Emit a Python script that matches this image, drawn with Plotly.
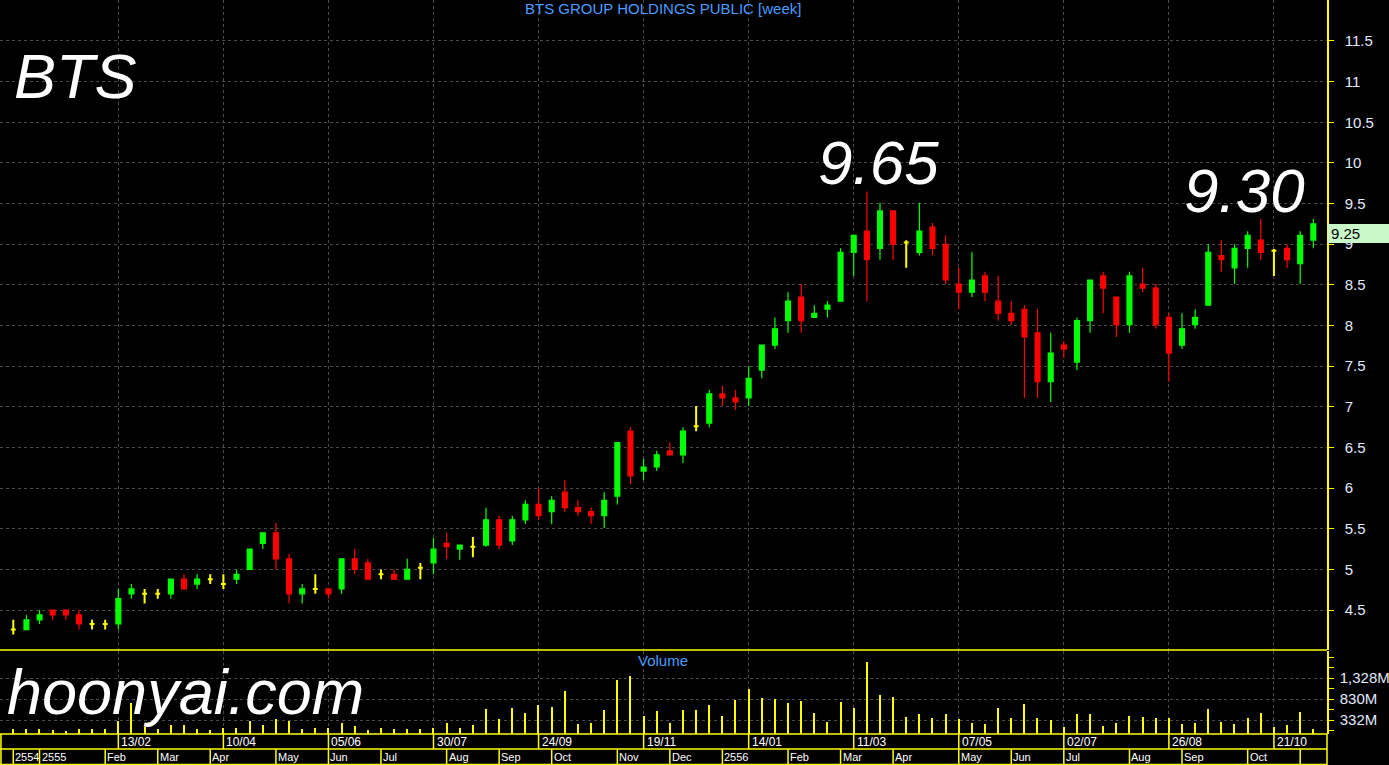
import pandas as pd
import plotly.graph_objects as go

# ---------------- data ----------------
week_start = "2011-12-19"
n_weeks = 100
dates = pd.date_range(week_start, periods=n_weeks, freq="7D")

opens = [4.26, 4.26, 4.38, 4.50, 4.50, 4.44, 4.33, 4.33, 4.33, 4.70,
         4.70, 4.70, 4.70, 4.88, 4.82, 4.88, 4.82, 4.88, 5.00, 5.32,
         5.45, 5.13, 4.70, 4.76, 4.76, 4.76, 5.13, 5.08, 4.94, 4.94,
         4.88, 5.02, 5.08, 5.32, 5.25, 5.28, 5.30, 5.61, 5.35, 5.61,
         5.80, 5.71, 5.95, 5.76, 5.71, 5.66, 5.90, 6.70, 6.21, 6.26,
         6.46, 6.41, 6.76, 6.80, 7.16, 7.11, 7.11, 7.45, 7.76, 8.06,
         8.35, 8.10, 8.20, 8.30, 8.90, 9.16, 8.95, 9.41, 9.02, 8.90,
         9.21, 9.00, 8.51, 8.41, 8.61, 8.30, 8.15, 8.20, 7.91, 7.31,
         7.76, 7.55, 8.06, 8.61, 8.35, 8.01, 8.51, 8.46, 8.10, 7.76,
         8.01, 8.25, 8.86, 8.71, 8.95, 9.05, 8.92, 8.95, 8.76, 9.05]
highs = [4.38, 4.44, 4.50, 4.50, 4.50, 4.50, 4.38, 4.38, 4.76, 4.82,
         4.76, 4.76, 4.88, 4.94, 4.94, 4.94, 4.94, 5.00, 5.25, 5.45,
         5.57, 5.19, 4.82, 4.94, 4.76, 5.13, 5.25, 5.13, 5.00, 5.00,
         5.13, 5.08, 5.39, 5.45, 5.30, 5.40, 5.76, 5.66, 5.66, 5.85,
         6.00, 5.90, 6.10, 5.85, 5.76, 5.95, 6.56, 6.75, 6.36, 6.46,
         6.56, 6.75, 7.01, 7.21, 7.26, 7.21, 7.50, 7.76, 8.10, 8.41,
         8.51, 8.25, 8.30, 8.95, 9.11, 9.65, 9.51, 9.41, 9.05, 9.51,
         9.26, 9.11, 8.71, 8.90, 8.66, 8.61, 8.30, 8.25, 8.20, 7.91,
         7.81, 8.10, 8.56, 8.66, 8.35, 8.66, 8.71, 8.51, 8.15, 8.15,
         8.20, 9.00, 9.05, 9.00, 9.16, 9.31, 8.94, 9.00, 9.16, 9.31]
lows = [4.20, 4.26, 4.33, 4.38, 4.38, 4.26, 4.26, 4.26, 4.26, 4.64,
        4.58, 4.64, 4.64, 4.76, 4.76, 4.82, 4.76, 4.82, 5.00, 5.25,
        5.00, 4.58, 4.58, 4.70, 4.64, 4.70, 4.94, 4.88, 4.88, 4.88,
        4.88, 4.88, 4.94, 5.13, 5.12, 5.15, 5.28, 5.25, 5.30, 5.56,
        5.61, 5.56, 5.71, 5.66, 5.56, 5.51, 5.80, 6.05, 6.10, 6.21,
        6.41, 6.31, 6.70, 6.75, 7.01, 6.96, 7.01, 7.35, 7.71, 7.91,
        7.91, 8.10, 8.10, 8.30, 8.61, 8.30, 8.81, 8.81, 8.71, 8.86,
        8.86, 8.51, 8.20, 8.35, 8.30, 8.06, 8.01, 7.11, 7.11, 7.06,
        7.60, 7.45, 7.91, 8.15, 7.86, 7.91, 8.41, 7.96, 7.31, 7.71,
        7.96, 8.25, 8.66, 8.51, 8.71, 8.81, 8.61, 8.71, 8.51, 8.95]
closes = [4.26, 4.38, 4.44, 4.44, 4.44, 4.33, 4.33, 4.33, 4.64, 4.76,
          4.70, 4.70, 4.88, 4.76, 4.88, 4.88, 4.82, 4.94, 5.25, 5.45,
          5.13, 4.70, 4.76, 4.76, 4.70, 5.13, 5.00, 4.88, 4.94, 4.88,
          5.00, 5.02, 5.25, 5.28, 5.30, 5.28, 5.61, 5.30, 5.61, 5.80,
          5.66, 5.85, 5.76, 5.71, 5.66, 5.85, 6.56, 6.15, 6.26, 6.41,
          6.41, 6.70, 6.76, 7.16, 7.11, 7.06, 7.35, 7.76, 7.96, 8.30,
          8.06, 8.15, 8.25, 8.90, 9.11, 8.81, 9.41, 9.00, 9.02, 9.16,
          8.95, 8.56, 8.41, 8.56, 8.41, 8.15, 8.06, 7.86, 7.31, 7.66,
          7.71, 8.06, 8.56, 8.46, 8.01, 8.61, 8.46, 8.01, 7.66, 7.96,
          8.10, 8.90, 8.81, 8.95, 9.11, 8.90, 8.92, 8.81, 9.11, 9.25]
volume_m = [118, 135, 135, 103, 87, 135, 118, 135, 305, 740,
            170, 118, 213, 213, 130, 110, 150, 155, 310, 213,
            356, 308, 118, 160, 160, 260, 200, 103, 150, 135,
            130, 118, 160, 261, 145, 229, 593, 356, 616, 498,
            688, 640, 1020, 237, 261, 569, 1280, 1375, 427, 545,
            261, 569, 569, 688, 427, 806, 1067, 854, 830, 735,
            782, 498, 285, 759, 616, 1707, 925, 877, 403, 474,
            379, 474, 356, 261, 237, 616, 379, 711, 379, 332,
            166, 474, 474, 190, 261, 427, 403, 379, 379, 237,
            261, 593, 285, 237, 379, 498, 166, 213, 522, 119]

last_price = "9.25"
title_text = "BTS GROUP HOLDINGS PUBLIC [week]"

price_ticks = [4.5, 5, 5.5, 6, 6.5, 7, 7.5, 8, 8.5, 9, 9.5, 10, 10.5, 11, 11.5]
vol_tick_vals_m = [332, 830, 1328]
vol_tick_text = ["332M", "830M", "1,328M"]

row1_dates = ["2012-02-13", "2012-04-09", "2012-06-04", "2012-07-30", "2012-09-24",
              "2012-11-19", "2013-01-14", "2013-03-11", "2013-05-06", "2013-07-01",
              "2013-08-26", "2013-10-21"]
row1_labels = ["13/02", "10/04", "05/06", "30/07", "24/09", "19/11",
               "14/01", "11/03", "07/05", "02/07", "26/08", "21/10"]
row2_dates = ["2011-12-19", "2012-01-02", "2012-02-06", "2012-03-05", "2012-04-02",
              "2012-05-07", "2012-06-04", "2012-07-02", "2012-08-06", "2012-09-03",
              "2012-10-01", "2012-11-05", "2012-12-03", "2012-12-31", "2013-02-04",
              "2013-03-04", "2013-04-01", "2013-05-06", "2013-06-03", "2013-07-01",
              "2013-08-05", "2013-09-02", "2013-10-07", "2013-11-04"]
row2_labels = ["2554", "2555", "Feb", "Mar", "Apr", "May", "Jun", "Jul", "Aug", "Sep",
               "Oct", "Nov", "Dec", "2556", "Feb", "Mar", "Apr", "May", "Jun", "Jul",
               "Aug", "Sep", "Oct", ""]

# ---------------- geometry helpers ----------------
W, H = 1389, 765
def py(px):
    return (H - px) / H

XR = 1327 / W
FONT = "Liberation Sans, Arial, sans-serif"
NARROW = "Liberation Sans Narrow, Arial Narrow, Liberation Sans, Arial, sans-serif"
LABEL_COL = "#e2eaff"
YEL = "#ffff00"
GRID = "#4a4a4a"

# split doji / normal
norm_idx = [i for i in range(n_weeks) if opens[i] != closes[i]]
doji_idx = [i for i in range(n_weeks) if opens[i] == closes[i]]

fig = go.Figure()
fig.add_trace(go.Candlestick(
    x=[dates[i] for i in norm_idx],
    open=[opens[i] for i in norm_idx], high=[highs[i] for i in norm_idx],
    low=[lows[i] for i in norm_idx], close=[closes[i] for i in norm_idx],
    increasing=dict(line=dict(color="#00ff00", width=1.2), fillcolor="#00ff00"),
    decreasing=dict(line=dict(color="#ff0000", width=1.2), fillcolor="#ff0000"),
    whiskerwidth=0, showlegend=False, xaxis="x", yaxis="y"))
fig.add_trace(go.Candlestick(
    x=[dates[i] for i in doji_idx],
    open=[opens[i] for i in doji_idx], high=[highs[i] for i in doji_idx],
    low=[lows[i] for i in doji_idx], close=[closes[i] for i in doji_idx],
    increasing=dict(line=dict(color=YEL, width=2), fillcolor=YEL),
    decreasing=dict(line=dict(color=YEL, width=2), fillcolor=YEL),
    whiskerwidth=0, showlegend=False, xaxis="x", yaxis="y"))
fig.add_trace(go.Bar(
    x=dates, y=[v * 1e6 for v in volume_m], width=0.6 * 86400000,
    marker=dict(color=YEL, line=dict(width=0)), showlegend=False,
    xaxis="x2", yaxis="y2"))

x_range = [pd.Timestamp(week_start) - pd.Timedelta(hours=170),
           dates[-1] + pd.Timedelta(hours=175)]

common_x = dict(type="date", range=x_range, domain=[0, XR], showticklabels=False,
                tickvals=row1_dates, showgrid=True, gridcolor=GRID, griddash="3px,3px",
                gridwidth=1, zeroline=False, showline=False, ticks="",
                fixedrange=True)

fig.update_layout(
    width=W, height=H, margin=dict(l=0, r=0, t=0, b=0),
    paper_bgcolor="#000000", plot_bgcolor="#000000",
    boxgap=0.47, bargap=0,
    xaxis=dict(anchor="y", rangeslider=dict(visible=False), **common_x),
    xaxis2=dict(anchor="y2", matches="x", **common_x),
    yaxis=dict(domain=[py(650), 1.0], range=[4.009, 12.004], side="right", anchor="x",
               tickvals=price_ticks, ticktext=[f"{v:g}" for v in price_ticks],
               showgrid=True, gridcolor=GRID, griddash="3px,3px", zeroline=False,
               showline=True, linecolor=YEL, linewidth=1.5,
               ticks="outside", ticklen=5, tickcolor=YEL, ticklabelstandoff=8,
               tickfont=dict(family=FONT, size=15, color=LABEL_COL)),
    yaxis2=dict(domain=[py(734), py(650.7)], range=[0, 1976e6], side="right", anchor="x2",
                tickvals=[v * 1e6 for v in vol_tick_vals_m], ticktext=vol_tick_text,
                showgrid=True, gridcolor=GRID, griddash="3px,3px", zeroline=False,
                showline=True, linecolor=YEL, linewidth=1.5,
                ticks="outside", ticklen=5, tickcolor=YEL, ticklabelstandoff=3,
                minor=dict(tick0=83e6, dtick=249e6, ticks="outside", ticklen=5,
                           tickcolor=YEL, showgrid=False),
                tickfont=dict(family=FONT, size=15, color=LABEL_COL)),
)

shapes = []
# horizontal yellow frame lines
for ypx in (650, 734, 749, 764.5):
    shapes.append(dict(type="line", xref="paper", yref="paper", x0=0, x1=XR,
                       y0=py(ypx), y1=py(ypx), line=dict(color=YEL, width=1.5)))
# left / right frame in date rows
for xp in (0.0007, XR):
    shapes.append(dict(type="line", xref="paper", yref="paper", x0=xp, x1=xp,
                       y0=0, y1=py(734), line=dict(color=YEL, width=1.5)))
# row 1 separators
for d in row1_dates:
    shapes.append(dict(type="line", xref="x", yref="paper", x0=d, x1=d,
                       y0=py(749), y1=py(734), line=dict(color=YEL, width=1.5)))
for d in row2_dates:
    shapes.append(dict(type="line", xref="x", yref="paper", x0=d, x1=d,
                       y0=0, y1=py(749), line=dict(color=YEL, width=1.5)))
# last price box
shapes.append(dict(type="rect", xref="paper", yref="paper", x0=XR + 0.0005, x1=1.0,
                   y0=py(243), y1=py(224), fillcolor="#c8f7c8", line=dict(width=0),
                   layer="above"))

annotations = []
for d, t in zip(row1_dates, row1_labels):
    annotations.append(dict(x=d, y=py(741.5), xref="x", yref="paper", text=t,
                            showarrow=False, xanchor="left", yanchor="middle", xshift=1,
                            font=dict(family=NARROW, size=12, color="#ffffff")))
for d, t in zip(row2_dates, row2_labels):
    if t:
        annotations.append(dict(x=d, y=py(757), xref="x", yref="paper", text=t,
                                showarrow=False, xanchor="left", yanchor="middle", xshift=0,
                                font=dict(family=NARROW, size=11, color="#ffffff")))
annotations += [
    dict(x=663 / W, y=py(9), xref="paper", yref="paper", text=title_text, showarrow=False,
         xanchor="center", yanchor="middle", font=dict(family=NARROW, size=15, color="#4a9cff")),
    dict(x=663 / W, y=py(660), xref="paper", yref="paper", text="Volume", showarrow=False,
         xanchor="center", yanchor="middle", font=dict(family=NARROW, size=15, color="#4a9cff")),
    dict(x=12 / W, y=py(76), xref="paper", yref="paper", text="<i>BTS</i>", showarrow=False,
         xanchor="left", yanchor="middle", font=dict(family=FONT, size=63, color="#ffffff")),
    dict(x=878 / W, y=py(162), xref="paper", yref="paper", text="<i>9.65</i>", showarrow=False,
         xanchor="center", yanchor="middle", font=dict(family=FONT, size=62, color="#ffffff")),
    dict(x=1244 / W, y=py(190), xref="paper", yref="paper", text="<i>9.30</i>", showarrow=False,
         xanchor="center", yanchor="middle", font=dict(family=FONT, size=62, color="#ffffff")),
    dict(x=5 / W, y=py(692), xref="paper", yref="paper", text="<i>hoonyai.com</i>", showarrow=False,
         xanchor="left", yanchor="middle", font=dict(family=FONT, size=63, color="#ffffff")),
    dict(x=(XR * W + 2) / W, y=py(233.5), xref="paper", yref="paper", text=last_price,
         showarrow=False, xanchor="left", yanchor="middle",
         font=dict(family=FONT, size=15, color="#000000")),
]
fig.update_layout(shapes=shapes, annotations=annotations)

fig.write_html("out.html", config={"displayModeBar": False},
               post_script="document.body.style.margin='0px';")
